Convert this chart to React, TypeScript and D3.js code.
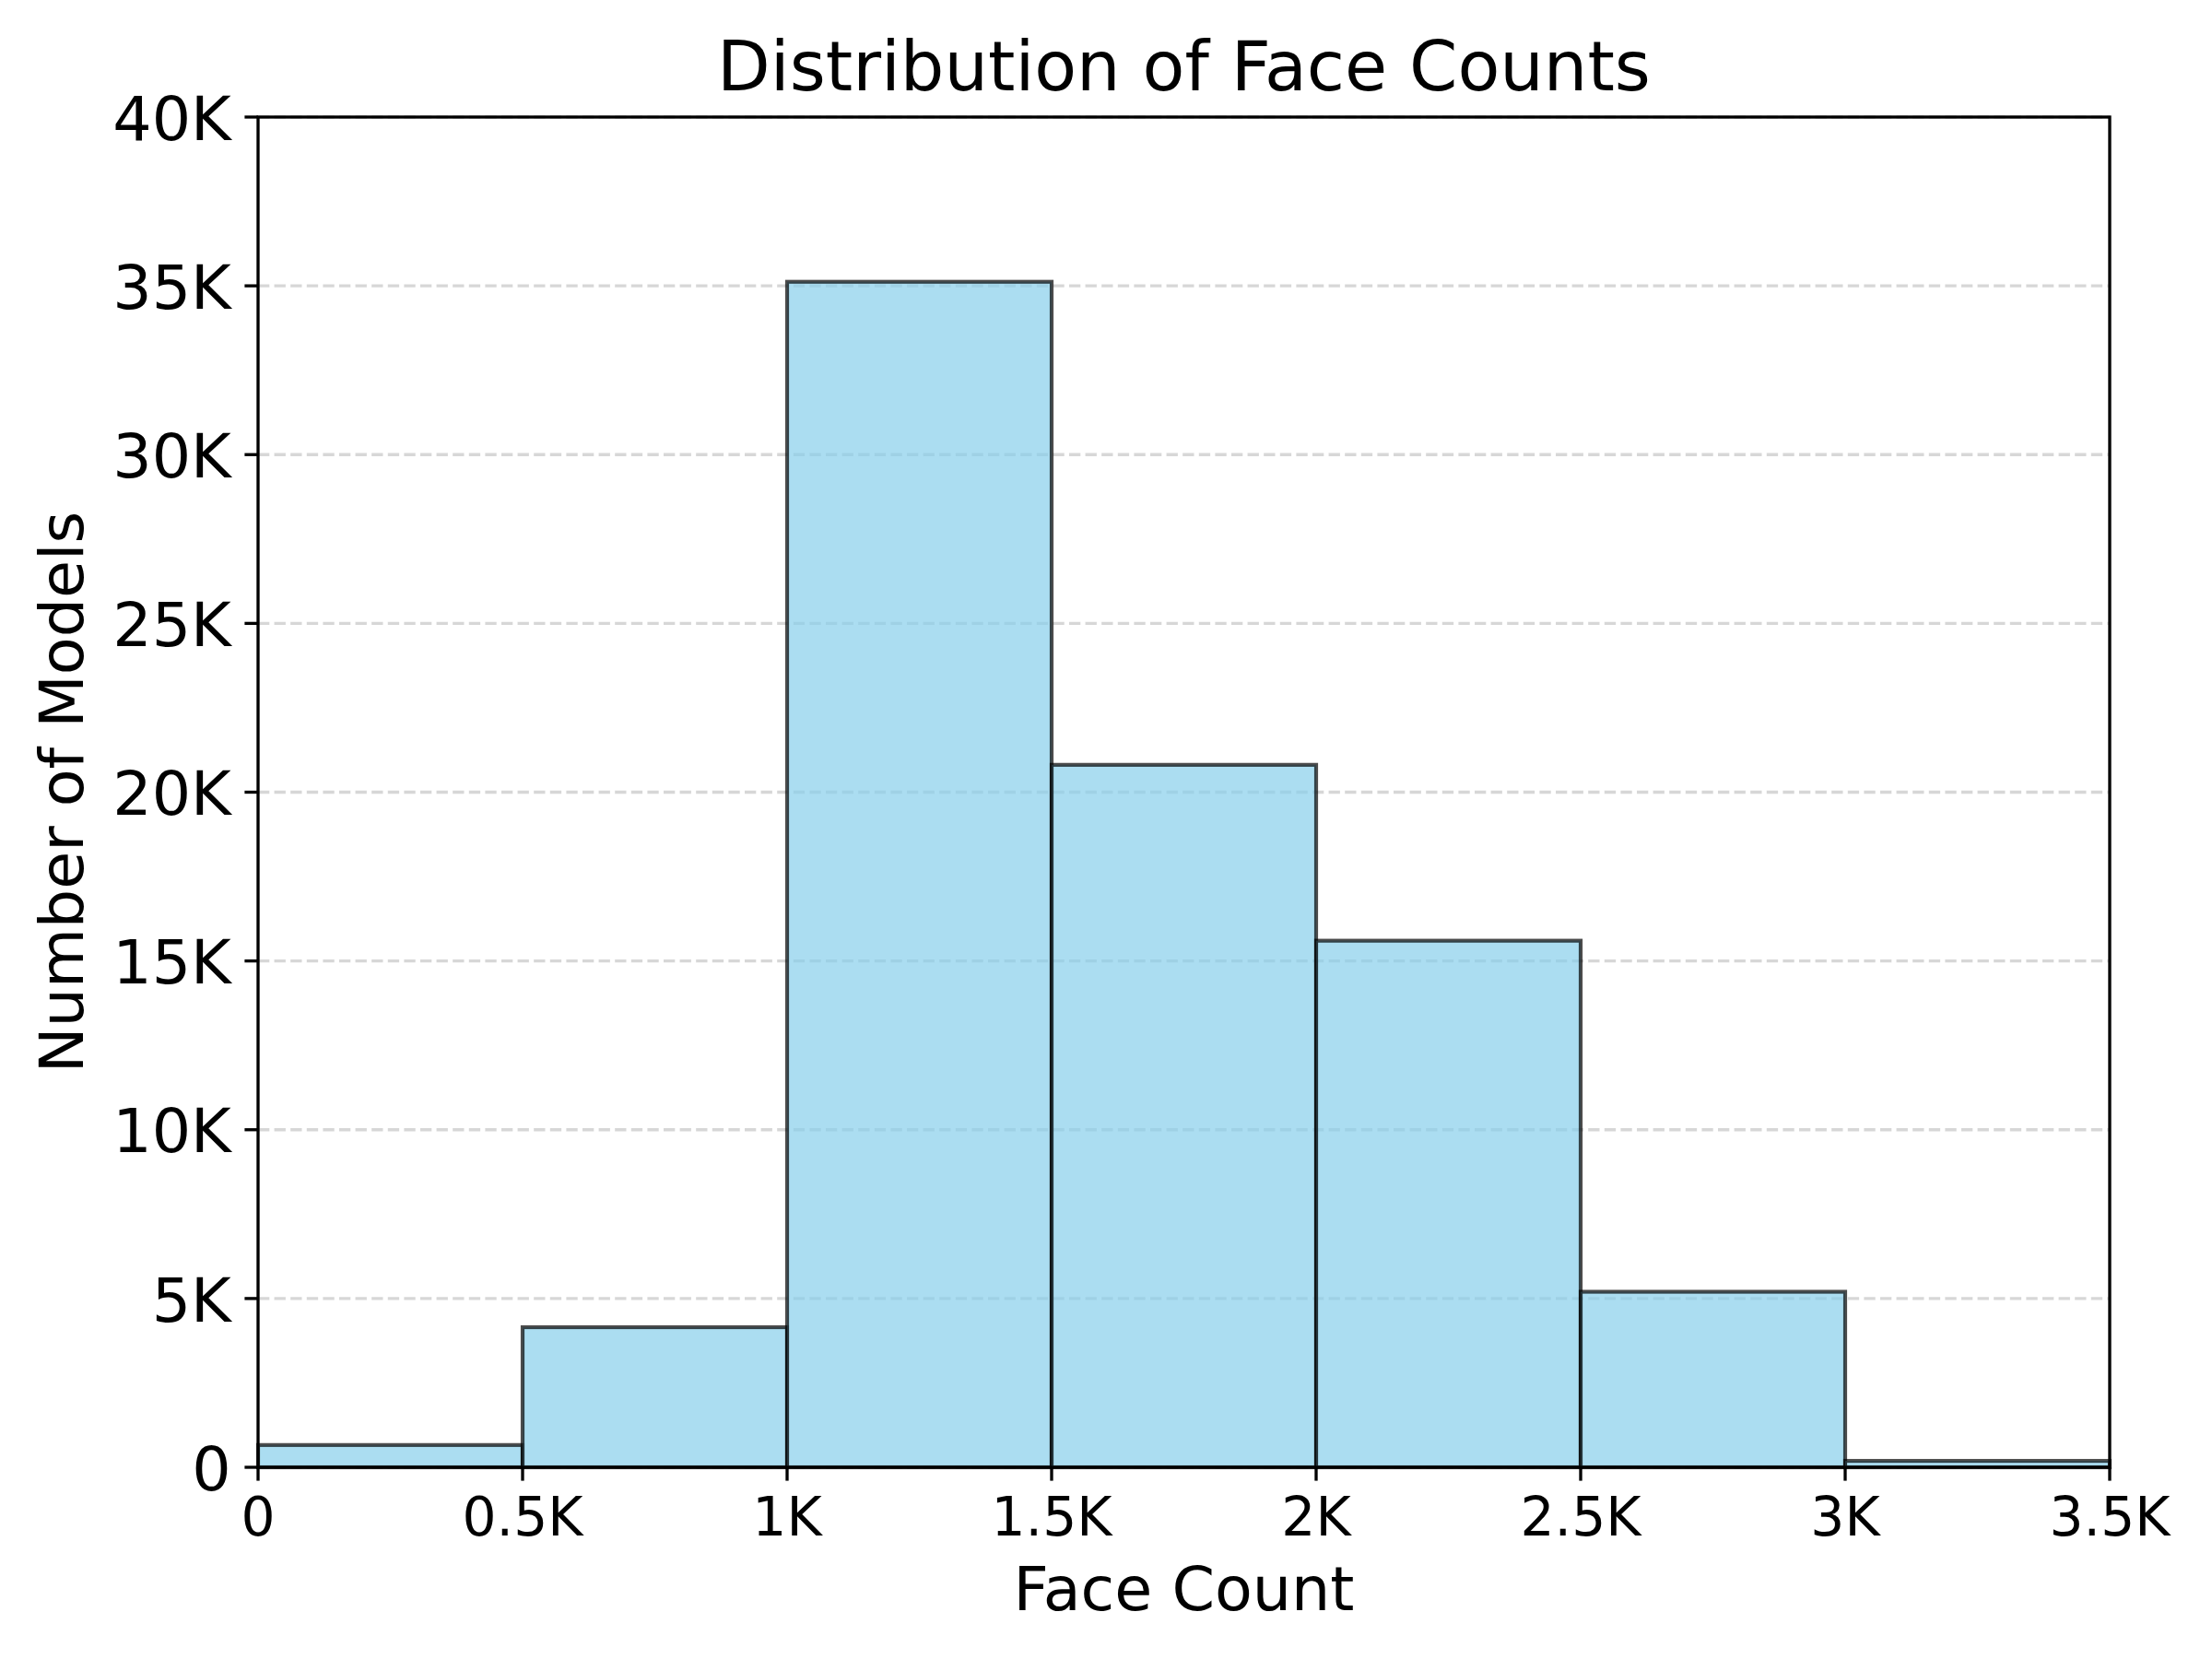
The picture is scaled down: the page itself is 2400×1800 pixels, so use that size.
import React from "react";
import * as d3 from "d3";

const binEdges = [0, 500, 1000, 1500, 2000, 2500, 3000, 3500];
const counts = [660, 4150, 35120, 20810, 15600, 5200, 190];
const xTicks = [0, 500, 1000, 1500, 2000, 2500, 3000, 3500];
const xTickLabels = ["0", "0.5K", "1K", "1.5K", "2K", "2.5K", "3K", "3.5K"];
const yTicks = [0, 5000, 10000, 15000, 20000, 25000, 30000, 35000, 40000];
const yTickLabels = ["0", "5K", "10K", "15K", "20K", "25K", "30K", "35K", "40K"];
const title = "Distribution of Face Counts";
const xLabel = "Face Count";
const yLabel = "Number of Models";

const W = 2400;
const H = 1800;
const L = 280;
const R = 2289;
const T = 127;
const B = 1592;
const FONT = "'DejaVu Sans', sans-serif";

export default function App() {
  const x = d3.scaleLinear().domain([0, 3500]).range([L, R]);
  const y = d3.scaleLinear().domain([0, 40000]).range([B, T]);
  const bins = counts.map((c, i) => ({ x0: binEdges[i], x1: binEdges[i + 1], c }));
  const tickLen = 14.6;
  const lw = 3.33;

  return (
    <svg
      width={W}
      height={H}
      viewBox={`0 0 ${W} ${H}`}
      style={{ position: "absolute", left: 0, top: 0, background: "#fff" }}
      fontFamily={FONT}
    >
      <rect x={0} y={0} width={W} height={H} fill="#fff" />
      {/* grid */}
      {yTicks.map((t, i) => (
        <line
          key={"g" + i}
          x1={L}
          x2={R}
          y1={y(t)}
          y2={y(t)}
          stroke="#b0b0b0"
          strokeOpacity={0.5}
          strokeWidth={lw}
          strokeDasharray="12.3,5.3"
        />
      ))}
      {/* bars */}
      {bins.map((b, i) => (
        <rect
          key={"b" + i}
          x={x(b.x0)}
          y={y(b.c)}
          width={x(b.x1) - x(b.x0)}
          height={y(0) - y(b.c)}
          fill="#87CEEB"
          fillOpacity={0.7}
          stroke="#000"
          strokeOpacity={0.7}
          strokeWidth={4.17}
        />
      ))}
      {/* spines */}
      <rect x={L} y={T} width={R - L} height={B - T} fill="none" stroke="#000" strokeWidth={lw} />
      {/* x ticks */}
      {xTicks.map((t, i) => (
        <g key={"xt" + i}>
          <line x1={x(t)} x2={x(t)} y1={B} y2={B + tickLen} stroke="#000" strokeWidth={lw} />
          <text x={x(t)} y={B + 74} fontSize={58.3} textAnchor="middle" fill="#000">
            {xTickLabels[i]}
          </text>
        </g>
      ))}
      {/* y ticks */}
      {yTicks.map((t, i) => (
        <g key={"yt" + i}>
          <line x1={L - tickLen} x2={L} y1={y(t)} y2={y(t)} stroke="#000" strokeWidth={lw} />
          <text
            x={L - tickLen - 14.6}
            y={y(t) + 0.37 * 66.7}
            fontSize={66.7}
            textAnchor="end"
            fill="#000"
          >
            {yTickLabels[i]}
          </text>
        </g>
      ))}
      <text x={(L + R) / 2} y={98} fontSize={75} textAnchor="middle" fill="#000">
        {title}
      </text>
      <text x={(L + R) / 2} y={1747} fontSize={66.7} textAnchor="middle" fill="#000">
        {xLabel}
      </text>
      <text
        transform={`translate(90, ${(T + B) / 2}) rotate(-90)`}
        fontSize={66.7}
        textAnchor="middle"
        fill="#000"
      >
        {yLabel}
      </text>
    </svg>
  );
}
